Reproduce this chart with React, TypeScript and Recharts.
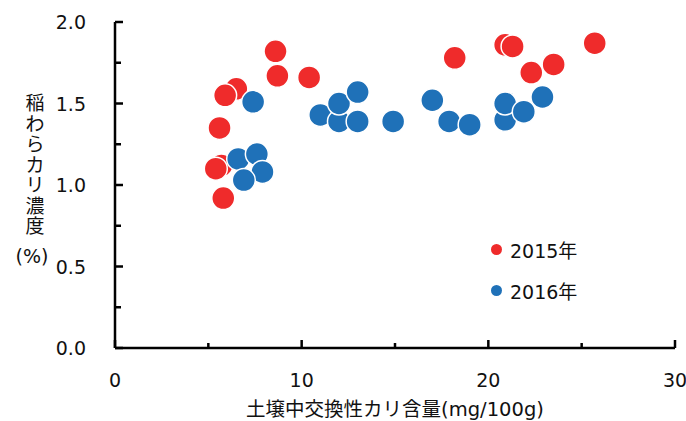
// Rice straw potassium vs. exchangeable soil potassium, 2015 / 2016.
// Recharts scatter, inward ticks with major/minor lengths, vertical JP y label.

import { Scatter, ScatterChart, XAxis, YAxis } from "recharts";

const FONT = "'DejaVu Sans', 'Noto Sans CJK JP', sans-serif";

const soilK2015 = [5.7, 5.4, 5.8, 5.6, 6.5, 5.9, 8.6, 8.7, 10.4, 18.2, 20.9, 21.3, 22.3, 23.5, 25.7];
const strawK2015 = [1.12, 1.1, 0.92, 1.35, 1.59, 1.55, 1.82, 1.67, 1.66, 1.78, 1.86, 1.85, 1.69, 1.74, 1.87];

const soilK2016 = [7.4, 6.6, 7.6, 7.9, 6.9, 11.0, 12.0, 12.0, 13.0, 13.0, 14.9, 17.0, 17.9, 19.0, 20.9, 20.9, 21.9, 22.9];
const strawK2016 = [1.51, 1.16, 1.19, 1.08, 1.03, 1.43, 1.39, 1.5, 1.57, 1.39, 1.39, 1.52, 1.39, 1.37, 1.4, 1.5, 1.45, 1.54];

const xTicks = [0, 5, 10, 15, 20, 25, 30];
const xMajor = [0, 10, 20, 30];
const yTicks = [0, 0.25, 0.5, 0.75, 1, 1.25, 1.5, 1.75, 2];
const yMajor = [0, 0.5, 1, 1.5, 2];

const series = [
  { name: "2015年", color: "#ef2b2b", xs: soilK2015, ys: strawK2015 },
  { name: "2016年", color: "#1f71b8", xs: soilK2016, ys: strawK2016 },
];

const yLabelChars = ["稲", "わ", "ら", "カ", "リ", "濃", "度"];

function XTick({ x, y, payload }: any) {
  const major = xMajor.includes(payload.value);
  return (
    <g>
      <line x1={x} y1={y} x2={x} y2={y - (major ? 8 : 5)} stroke="#000" strokeWidth={2.5} />
      {major && (
        <text x={x} y={y + 39} textAnchor="middle" fontSize={19} fontFamily={FONT} fill="#111">
          {payload.value}
        </text>
      )}
    </g>
  );
}

function YTick({ x, y, payload }: any) {
  const major = yMajor.includes(payload.value);
  return (
    <g>
      <line x1={x} y1={y} x2={x + (major ? 8 : 6)} y2={y} stroke="#000" strokeWidth={2.5} />
      {major && (
        <text x={x - 29} y={y + 7} textAnchor="end" fontSize={19} fontFamily={FONT} fill="#111">
          {payload.value.toFixed(1)}
        </text>
      )}
    </g>
  );
}

function YLabel() {
  return (
    <g fontFamily={FONT} fontSize={19} fill="#111">
      {yLabelChars.map((c, i) => (
        <text key={c} x={35} y={110 + i * 20.5} textAnchor="middle">
          {c}
        </text>
      ))}
      <text x={32} y={263} textAnchor="middle">
        (%)
      </text>
    </g>
  );
}

function LegendBox() {
  return (
    <div style={{ position: "absolute", left: 491, top: 229, fontFamily: FONT, fontSize: 19, color: "#111" }}>
      {series.map((s) => (
        <div key={s.name} style={{ display: "flex", alignItems: "center", height: 41 }}>
          <span
            style={{
              width: 11,
              height: 11,
              borderRadius: "50%",
              background: s.color,
              display: "inline-block",
              marginRight: 8,
            }}
          />
          {s.name}
        </div>
      ))}
    </div>
  );
}

export default function App() {
  return (
    <div style={{ position: "absolute", left: 0, top: 0, width: 686, height: 421, background: "#fff" }}>
      <ScatterChart width={686} height={421} margin={{ top: 22, right: 11, left: 0, bottom: 0 }}>
        <XAxis
          type="number"
          dataKey="x"
          domain={[0, 30]}
          ticks={xTicks}
          interval={0}
          height={73}
          stroke="#000"
          strokeWidth={2.5}
          tickLine={false}
          tickSize={0}
          tickMargin={0}
          tick={<XTick />}
          label={{
            value: "土壌中交換性カリ含量(mg/100g)",
            position: "insideBottom",
            offset: 5,
            style: { fontSize: 19.5, fontFamily: FONT, fill: "#111" },
          }}
        />
        <YAxis
          type="number"
          dataKey="y"
          domain={[0, 2]}
          ticks={yTicks}
          interval={0}
          width={115}
          stroke="#000"
          strokeWidth={2.5}
          tickLine={false}
          tickSize={0}
          tickMargin={0}
          tick={<YTick />}
          label={<YLabel />}
        />
        {series.map((s) => (
          <Scatter
            key={s.name}
            name={s.name}
            data={s.xs.map((x, i) => ({ x, y: s.ys[i] }))}
            fill={s.color}
            isAnimationActive={false}
            shape={(p: any) => (
              <circle cx={p.cx} cy={p.cy} r={11.5} fill={s.color} stroke="#fff" strokeWidth={1.5} />
            )}
          />
        ))}
      </ScatterChart>
      <LegendBox />
    </div>
  );
}
